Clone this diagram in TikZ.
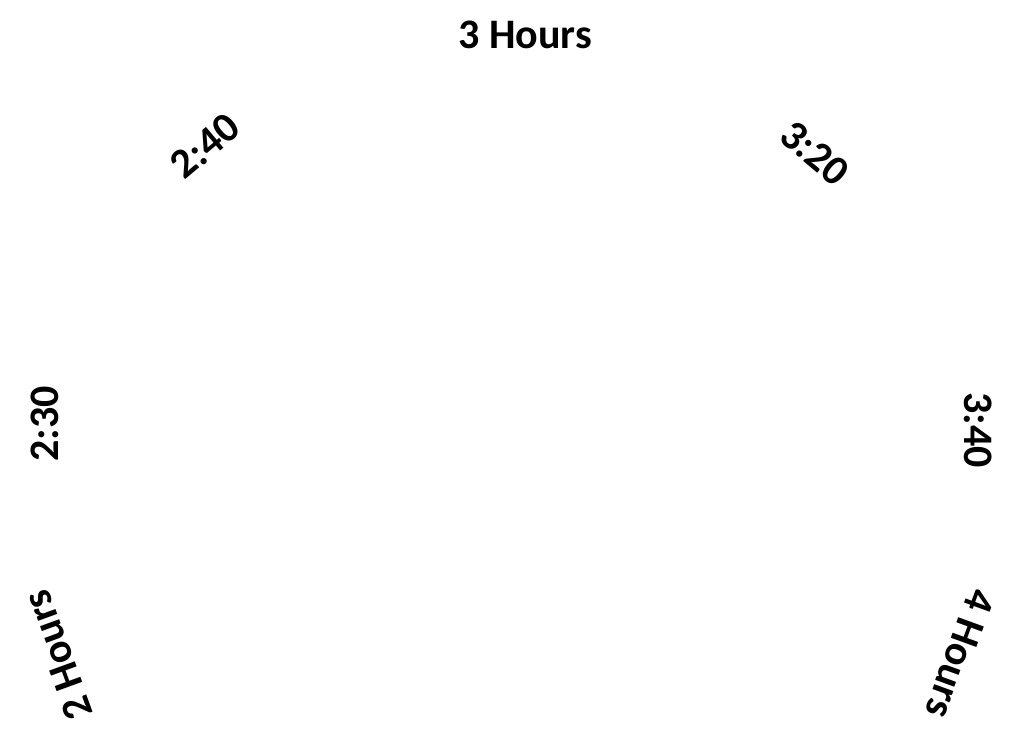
\documentclass[tikz,border=0pt]{standalone}
\usepackage{fontspec}
\setmainfont{Carlito}
\begin{document}
\begin{tikzpicture}[x=1pt,y=-1pt,
  lbl/.style={inner sep=0pt,font=\fontsize{42}{42}\selectfont\bfseries}]
\useasboundingbox[fill=white] (0,0) rectangle (1020,744);
\node[lbl] (h3) at (525,35) {3 Hours};
\node[lbl,rotate=40] (t240) at (205,146) {2:40};
\node[lbl,rotate=-40] (t320) at (815,153) {3:20};
\node[lbl,rotate=90] (t230) at (45,424) {2:30};
\node[lbl,rotate=-90] (t340) at (978,430) {3:40};
\node[lbl,rotate=110] (h2) at (58,655) {2 Hours};
\node[lbl,rotate=-110] (h4) at (960,654) {4 Hours};
\end{tikzpicture}
\end{document}
